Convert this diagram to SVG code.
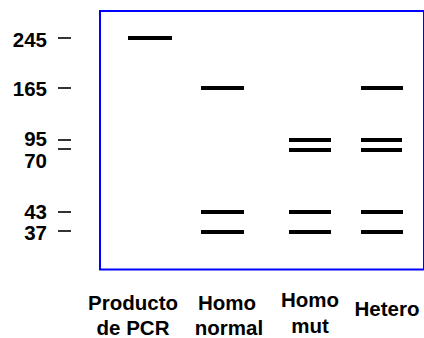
<svg xmlns="http://www.w3.org/2000/svg" width="424" height="338" viewBox="0 0 424 338">
  <style>
    .lbl { font-family: "Liberation Sans", Arial, sans-serif; font-weight: bold; font-size: 20.5px; fill: #000; }
    .size { text-anchor: end; }
    .lane { text-anchor: middle; }
    .band { stroke: #000; stroke-width: 4; }
    .tick { stroke: #000; stroke-width: 1.6; }
  </style>
  <rect width="424" height="338" fill="#fff"/>

  <!-- gel frame -->
  <rect id="gel" x="100" y="11" width="324" height="258.5" fill="none" stroke="#0000ff" stroke-width="2"/>

  <!-- size ladder (bp) -->
  <g id="ladder">
    <text class="lbl size" x="47" y="47">245</text>
    <text class="lbl size" x="47" y="96">165</text>
    <text class="lbl size" x="47" y="146">95</text>
    <text class="lbl size" x="47" y="168">70</text>
    <text class="lbl size" x="47" y="219">43</text>
    <text class="lbl size" x="47" y="240">37</text>
    <line class="tick" x1="58" y1="38" x2="71" y2="38"/>
    <line class="tick" x1="58" y1="88" x2="71" y2="88"/>
    <line class="tick" x1="58" y1="140" x2="71" y2="140"/>
    <line class="tick" x1="58" y1="149" x2="71" y2="149"/>
    <line class="tick" x1="58" y1="212" x2="71" y2="212"/>
    <line class="tick" x1="58" y1="231" x2="71" y2="231"/>
  </g>

  <!-- lane 1: uncut PCR product -->
  <g id="lane-pcr">
    <line class="band" x1="128" y1="38" x2="172" y2="38"/>
    <text class="lbl lane" x="133" y="310">Producto</text>
    <text class="lbl lane" x="133" y="335">de PCR</text>
  </g>

  <!-- lane 2: normal homozygote -->
  <g id="lane-homo-normal">
    <line class="band" x1="201" y1="88" x2="244" y2="88"/>
    <line class="band" x1="201" y1="212" x2="244" y2="212"/>
    <line class="band" x1="201" y1="232" x2="244" y2="232"/>
    <text class="lbl lane" x="227" y="310">Homo</text>
    <text class="lbl lane" x="229" y="335">normal</text>
  </g>

  <!-- lane 3: mutant homozygote -->
  <g id="lane-homo-mut">
    <line class="band" x1="289" y1="140" x2="331" y2="140"/>
    <line class="band" x1="289" y1="150" x2="331" y2="150"/>
    <line class="band" x1="289" y1="212" x2="331" y2="212"/>
    <line class="band" x1="289" y1="232" x2="331" y2="232"/>
    <text class="lbl lane" x="310" y="307">Homo</text>
    <text class="lbl lane" x="310" y="333">mut</text>
  </g>

  <!-- lane 4: heterozygote -->
  <g id="lane-hetero">
    <line class="band" x1="361" y1="88" x2="403" y2="88"/>
    <line class="band" x1="361" y1="140" x2="402" y2="140"/>
    <line class="band" x1="361" y1="150" x2="402" y2="150"/>
    <line class="band" x1="361" y1="212" x2="403" y2="212"/>
    <line class="band" x1="361" y1="232" x2="403" y2="232"/>
    <text class="lbl lane" x="387" y="316">Hetero</text>
  </g>
</svg>
